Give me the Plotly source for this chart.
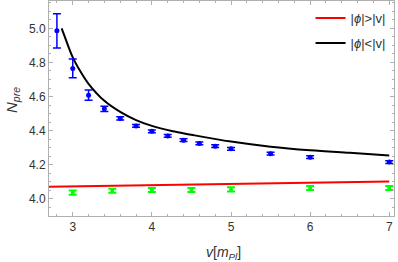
import plotly.graph_objects as go

# Blue data (|phi|<|v| simulation)
blue_x = [2.8, 3.0, 3.2, 3.4, 3.6, 3.8, 4.0, 4.2, 4.4, 4.6, 4.8, 5.0, 5.5, 6.0, 7.0]
blue_y = [4.985, 4.765, 4.608, 4.528, 4.472, 4.428, 4.396, 4.369, 4.344, 4.325, 4.309, 4.294, 4.265, 4.245, 4.216]
blue_err = [0.10, 0.055, 0.03, 0.015, 0.01, 0.008, 0.008, 0.008, 0.008, 0.008, 0.008, 0.008, 0.008, 0.008, 0.008]

# Green data (|phi|>|v| simulation)
green_x = [3.0, 3.5, 4.0, 4.5, 5.0, 6.0, 7.0]
green_y = [4.037, 4.048, 4.052, 4.052, 4.056, 4.064, 4.064]
green_err = [0.012, 0.012, 0.012, 0.012, 0.012, 0.012, 0.012]

# Red analytic curve
red_x = [2.7, 3.5, 4.5, 5.5, 6.5, 7.0]
red_y = [4.071, 4.077, 4.084, 4.091, 4.099, 4.102]

# Black analytic curve
black_x = [2.86, 2.9, 3.0, 3.1, 3.2, 3.4, 3.6, 3.8, 4.0, 4.25, 4.5, 5.0, 5.5, 6.0, 6.5, 7.0]
black_y = [5.0, 4.95, 4.83, 4.745, 4.675, 4.575, 4.51, 4.462, 4.428, 4.398, 4.376, 4.336, 4.306, 4.285, 4.27, 4.255]

fig = go.Figure()
fig.add_trace(go.Scatter(x=red_x, y=red_y, mode="lines", line=dict(color="#ff0000", width=2),
                         name="|<i>ϕ</i>|>|v|", legendgroup="a"))
fig.add_trace(go.Scatter(x=black_x, y=black_y, mode="lines", line=dict(color="#000000", width=2, shape="spline"),
                         name="|<i>ϕ</i>|<|v|", legendgroup="b"))
fig.add_trace(go.Scatter(x=blue_x, y=blue_y, mode="markers", marker=dict(color="#0000ff", size=5),
                         error_y=dict(type="data", array=blue_err, color="#0000ff", thickness=1.5, width=4),
                         showlegend=False))
fig.add_trace(go.Scatter(x=green_x, y=green_y, mode="markers", marker=dict(color="#00ff00", size=4),
                         error_y=dict(type="data", array=green_err, color="#00ff00", thickness=2, width=4),
                         showlegend=False))

axis_common = dict(showgrid=False, zeroline=False, showline=True, linecolor="#b0b0b0", linewidth=1,
                   mirror="allticks", ticks="inside", tickcolor="#b0b0b0", ticklen=4,
                   tickfont=dict(family="Liberation Sans, Arial", size=12, color="#333333"))
fig.update_xaxes(range=[2.7, 7.06], tickvals=[3, 4, 5, 6, 7],
                 minor=dict(dtick=0.2, tick0=0, ticks="inside", ticklen=2, tickcolor="#b0b0b0"),
                 **axis_common)
fig.update_yaxes(range=[3.9, 5.16], tickvals=[4.0, 4.2, 4.4, 4.6, 4.8, 5.0], tickformat=".1f",
                 minor=dict(dtick=0.05, tick0=0, ticks="inside", ticklen=2, tickcolor="#b0b0b0"),
                 **axis_common)

fig.add_annotation(text="<i>N<sub>pre</sub></i>", xref="paper", yref="paper", x=-0.104, y=0.54,
                   xanchor="center", yanchor="middle",
                   textangle=-90, showarrow=False, font=dict(family="Liberation Sans, Arial", size=15, color="#333333"))
fig.add_annotation(text="<i>v</i>[<i>m<sub>Pl</sub></i>]", xref="paper", yref="paper", x=0.505, y=-0.12,
                   xanchor="center", yanchor="top", showarrow=False,
                   font=dict(family="Liberation Sans, Arial", size=14, color="#333333"))

fig.update_layout(width=398, height=262, margin=dict(l=49, r=4, t=1, b=46),
                  plot_bgcolor="white", paper_bgcolor="white",
                  legend=dict(x=0.99, xanchor="right", y=0.99, yanchor="top", bgcolor="rgba(0,0,0,0)",
                              font=dict(family="Liberation Sans, Arial", size=13, color="#333333"),
                              itemwidth=30, tracegroupgap=5))
fig.write_html("out.html", config={"displayModeBar": False},
               post_script="document.body.style.margin='0';document.body.style.overflow='hidden';")
